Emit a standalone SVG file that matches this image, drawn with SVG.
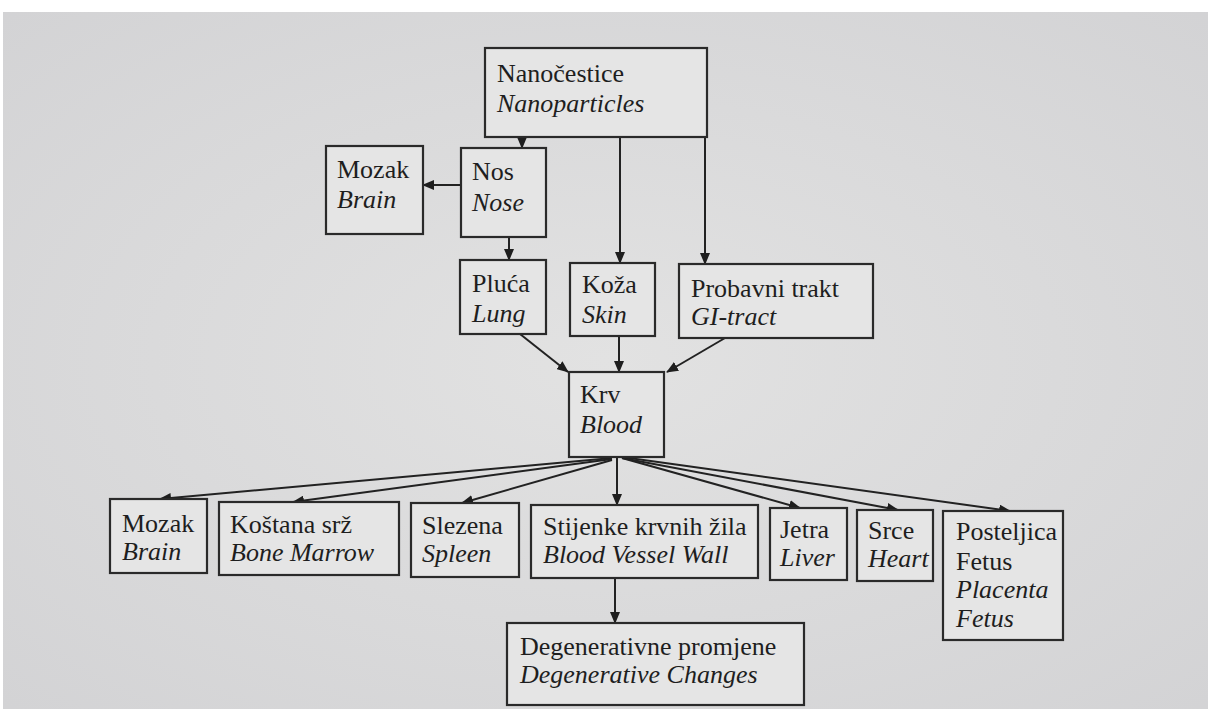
<svg xmlns="http://www.w3.org/2000/svg" width="1208" height="709" viewBox="0 0 1208 709">
<defs>
<marker id="ah" markerWidth="12" markerHeight="10" refX="11" refY="5" orient="auto" markerUnits="userSpaceOnUse">
<path d="M0,0 L12,5 L0,10 Z" fill="#1e1e1e"/>
</marker>
<radialGradient id="bg" cx="0.5" cy="0.5" r="0.75">
<stop offset="0" stop-color="#e2e2e2"/>
<stop offset="1" stop-color="#d2d2d4"/>
</radialGradient>
</defs>
<style>
.box{fill:#e5e5e5;stroke:#2a2a2a;stroke-width:2.2}
.t{font-family:'Liberation Serif','Times New Roman','Noto Serif',serif;font-size:26px;fill:#1e1e1e}
.i{font-style:italic}
.c{stroke:#222;stroke-width:2;fill:none;marker-end:url(#ah)}
</style>
<rect x="0" y="0" width="1208" height="709" fill="#ffffff"/>
<rect x="3" y="12" width="1205" height="697" fill="url(#bg)"/>

<g id="connectors">
<line class="c" x1="522" y1="137" x2="522" y2="148"/>
<line class="c" x1="620" y1="137" x2="620" y2="263"/>
<line class="c" x1="705" y1="137" x2="705" y2="264"/>
<line class="c" x1="461" y1="185" x2="423" y2="185"/>
<line class="c" x1="509" y1="237" x2="509" y2="260"/>
<line class="c" x1="520" y1="334" x2="568" y2="372"/>
<line class="c" x1="619" y1="336" x2="619" y2="372"/>
<line class="c" x1="725" y1="338" x2="667" y2="372"/>
<line class="c" x1="617" y1="457" x2="617" y2="505"/>
<line class="c" x1="612" y1="458" x2="160" y2="499"/>
<line class="c" x1="612" y1="459" x2="293" y2="502"/>
<line class="c" x1="612" y1="460" x2="462" y2="503"/>
<line class="c" x1="622" y1="458" x2="800" y2="508"/>
<line class="c" x1="622" y1="458" x2="898" y2="510"/>
<line class="c" x1="622" y1="457" x2="1010" y2="511"/>
<line class="c" x1="615" y1="578" x2="615" y2="623"/>
</g>

<g font-family="Liberation Serif, Times New Roman, serif">
<g id="nanoparticles">
<rect class="box" x="485" y="48" width="222" height="89"/>
<text class="t" x="497" y="82">Nanočestice</text>
<text class="t i" x="497" y="112">Nanoparticles</text>
</g>
<g id="brain-top">
<rect class="box" x="326" y="146" width="97" height="88"/>
<text class="t" x="337" y="178">Mozak</text>
<text class="t i" x="337" y="208">Brain</text>
</g>
<g id="nose">
<rect class="box" x="461" y="148" width="85" height="89"/>
<text class="t" x="472" y="180">Nos</text>
<text class="t i" x="472" y="211">Nose</text>
</g>
<g id="lung">
<rect class="box" x="460" y="260" width="86" height="74"/>
<text class="t" x="472" y="292">Pluća</text>
<text class="t i" x="472" y="322">Lung</text>
</g>
<g id="skin">
<rect class="box" x="570" y="263" width="85" height="73"/>
<text class="t" x="582" y="293">Koža</text>
<text class="t i" x="582" y="323">Skin</text>
</g>
<g id="gi-tract">
<rect class="box" x="679" y="264" width="194" height="74"/>
<text class="t" x="691" y="297">Probavni trakt</text>
<text class="t i" x="691" y="325">GI-tract</text>
</g>
<g id="blood">
<rect class="box" x="569" y="372" width="95" height="85"/>
<text class="t" x="580" y="403">Krv</text>
<text class="t i" x="580" y="433">Blood</text>
</g>
<g id="brain-bottom">
<rect class="box" x="110" y="499" width="97" height="74"/>
<text class="t" x="122" y="532">Mozak</text>
<text class="t i" x="122" y="560">Brain</text>
</g>
<g id="bone-marrow">
<rect class="box" x="219" y="502" width="180" height="73"/>
<text class="t" x="230" y="533">Koštana srž</text>
<text class="t i" x="230" y="561">Bone Marrow</text>
</g>
<g id="spleen">
<rect class="box" x="411" y="503" width="108" height="74"/>
<text class="t" x="422" y="534">Slezena</text>
<text class="t i" x="422" y="562">Spleen</text>
</g>
<g id="vessel-wall">
<rect class="box" x="531" y="505" width="227" height="73"/>
<text class="t" x="543" y="535">Stijenke krvnih žila</text>
<text class="t i" x="543" y="563">Blood Vessel Wall</text>
</g>
<g id="liver">
<rect class="box" x="770" y="508" width="77" height="72"/>
<text class="t" x="780" y="538">Jetra</text>
<text class="t i" x="780" y="566">Liver</text>
</g>
<g id="heart">
<rect class="box" x="857" y="510" width="76" height="71"/>
<text class="t" x="868" y="539">Srce</text>
<text class="t i" x="868" y="567">Heart</text>
</g>
<g id="placenta">
<rect class="box" x="943" y="511" width="120" height="129"/>
<text class="t" x="956" y="540">Posteljica</text>
<text class="t" x="956" y="570">Fetus</text>
<text class="t i" x="956" y="598">Placenta</text>
<text class="t i" x="956" y="627">Fetus</text>
</g>
<g id="degenerative">
<rect class="box" x="507" y="623" width="297" height="82"/>
<text class="t" x="520" y="655">Degenerativne promjene</text>
<text class="t i" x="520" y="683">Degenerative Changes</text>
</g>
</g>
</svg>
